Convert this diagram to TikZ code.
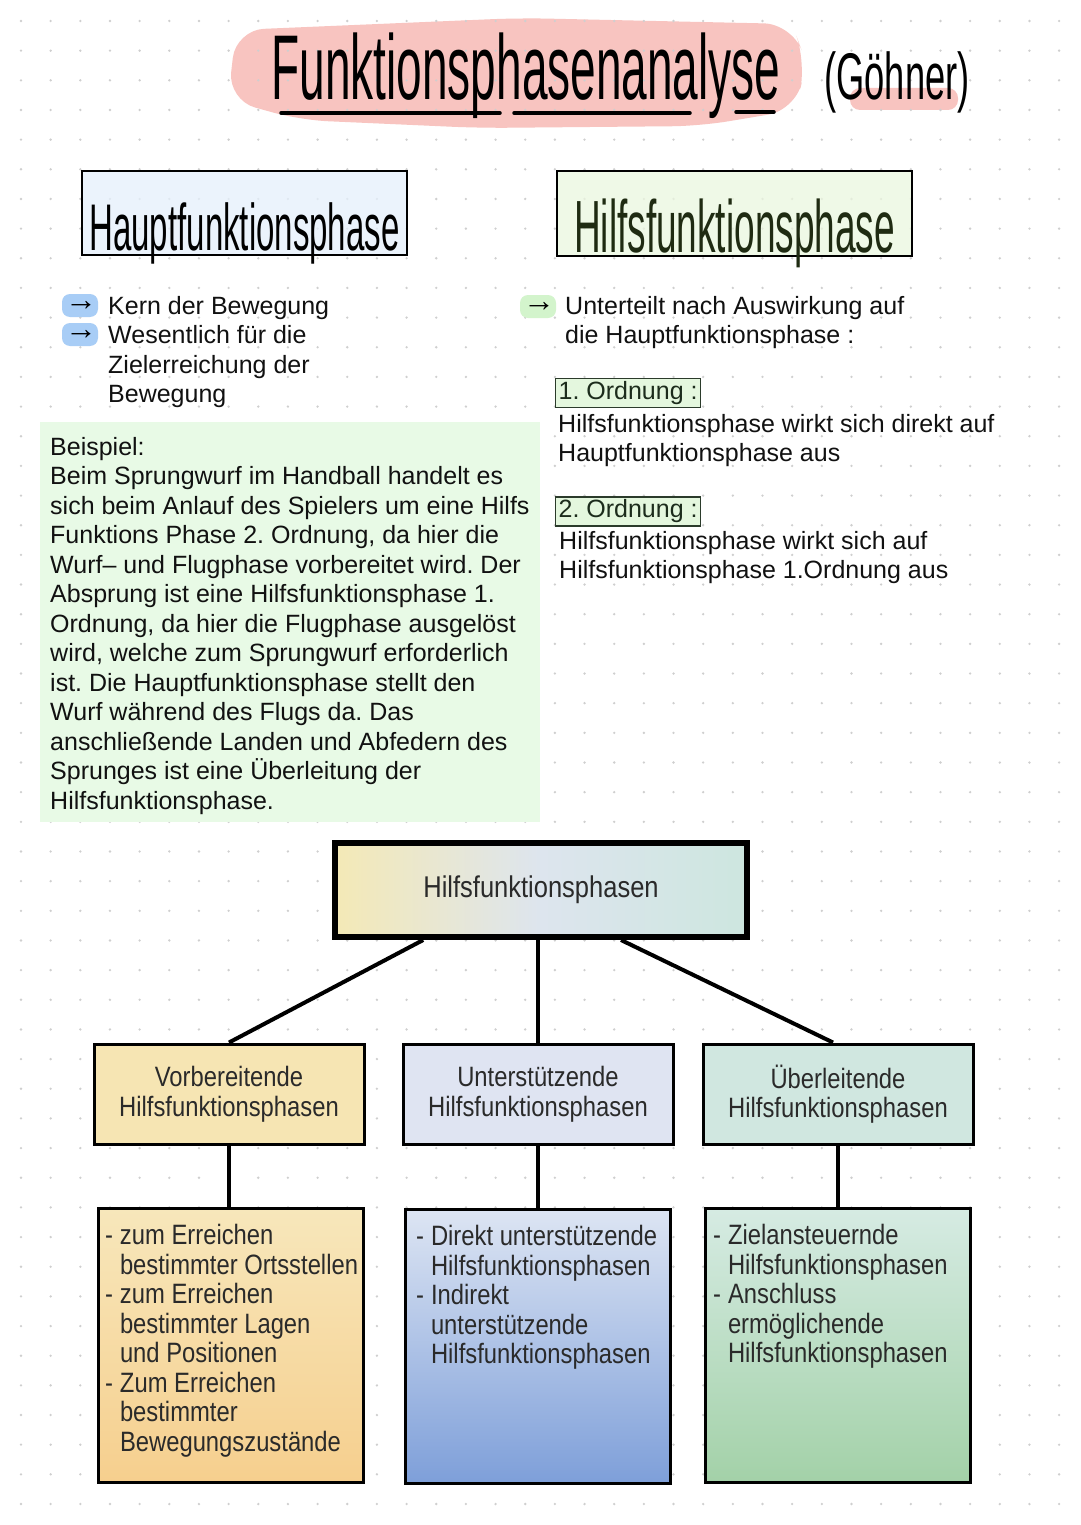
\documentclass[tikz,border=0pt]{standalone}
\usepackage{fontspec}
\setmainfont{Liberation Sans}
\newfontfamily\handfont[FakeStretch=0.5]{Liberation Sans}
\newfontfamily\handfontb[FakeStretch=0.55]{Liberation Sans}
\newfontfamily\narrowfont[FakeStretch=0.85]{Liberation Sans}
\usepackage{xcolor}
\usetikzlibrary{calc}
\frenchspacing

\definecolor{dotgray}{HTML}{CFCFCF}
\definecolor{blobpink}{HTML}{F8C4C0}
\definecolor{hauptfill}{HTML}{E5F0FC}
\definecolor{hilfsfill}{HTML}{EAF7DF}
\definecolor{hilfsink}{HTML}{1F2B12}
\definecolor{hlblue}{HTML}{A8CDF6}
\definecolor{hlgreen}{HTML}{D3F4CC}
\definecolor{ordfill}{HTML}{E4F7DE}
\definecolor{ordline}{HTML}{2B3B2B}
\definecolor{ordink}{HTML}{1C2C1C}
\definecolor{exfill}{HTML}{E8FAE6}
\definecolor{notetext}{HTML}{111111}
\definecolor{phasetext}{HTML}{2A2A2A}
\definecolor{topleft}{HTML}{F4E9B6}
\definecolor{topmid}{HTML}{DDE5EE}
\definecolor{topright}{HTML}{CDE6DF}
\definecolor{vorfill}{HTML}{F6E5B3}
\definecolor{unterfill}{HTML}{DFE4F2}
\definecolor{ueberfill}{HTML}{D0E7E0}
\definecolor{vortop}{HTML}{F7E7BB}
\definecolor{vorbot}{HTML}{F6CF8E}
\definecolor{untertop}{HTML}{DDE5F3}
\definecolor{unterbot}{HTML}{7E9FD9}
\definecolor{uebertop}{HTML}{D6EBE3}
\definecolor{ueberbot}{HTML}{A3D1A8}

\newcommand{\notefont}{\fontsize{25}{29.5}\selectfont}
\newcommand{\phasefont}{\narrowfont\fontsize{28}{29.5}\selectfont}
\newcommand{\phaselist}[2]{\parbox[c][274pt][t]{265pt}{\vspace*{16pt}\begin{tabular}{@{\hspace{#1}}p{15pt}@{}l@{}}#2\end{tabular}}}

\begin{document}
\begin{tikzpicture}[x=1pt, y=-1pt]
        \useasboundingbox (0,0) rectangle (1080,1525);
        \fill[white] (0,0) rectangle (1080,1525);
        \tikzstyle{note} = [font=\notefont, text=notetext, inner sep=0pt, anchor=north west, align=left]
        \tikzstyle{headbox} = [draw=black, line width=2pt, minimum height=84pt, text depth=0pt, inner sep=0pt, fill opacity=0.75, text opacity=1]
        \tikzstyle{hlarrow} = [rounded corners=8pt, inner ysep=0pt, inner xsep=1pt, minimum height=23pt, text width=34pt, align=right, font=\fontsize{32}{32}\selectfont]
        \tikzstyle{ordbox} = [draw=ordline, line width=1.2pt, fill=ordfill, text=ordink, inner xsep=3pt, inner ysep=0pt, minimum height=29pt, font=\notefont, anchor=west]
        \tikzstyle{phasebox} = [draw=black, line width=3pt, minimum width=270pt, minimum height=100pt, align=center, font=\phasefont, text=phasetext]
        \tikzstyle{lowbox} = [draw=black, line width=3pt, inner sep=0pt, font=\phasefont, text=phasetext]
        \tikzstyle{branch} = [draw=black, line width=4pt]

        \fill[blobpink, rounded corners=28pt] (236,30) -- (520,18) -- (792,24) -- (806,62) -- (796,110) -- (700,126) -- (480,128) -- (300,120) -- (228,100) -- cycle;
        \fill[blobpink, rounded corners=10pt] (850,88) rectangle (958,110);
        \foreach \i in {0,...,35}
            \foreach \j in {0,...,50}
                \fill[dotgray] (21+29.66*\i, 21+29.66*\j) circle (1.3);

        \node[font=\handfont\fontsize{92}{92}\selectfont, anchor=base, inner sep=0pt] (title) at (526,100) {Funktionsphasenanalyse};
        \node[font=\handfontb\fontsize{66}{66}\selectfont, anchor=base, inner sep=0pt] (author) at (897,100) {(Göhner)};
        \draw[line width=3.5pt, line cap=round] (281,113) -- (500,113);
        \draw[line width=3.5pt, line cap=round] (514,113) -- (690,113);
        \draw[line width=3.5pt, line cap=round] (736,112) -- (774,112);

        \node[headbox, fill=hauptfill, minimum width=325pt, text height=74pt, font=\handfont\fontsize{66}{66}\selectfont] (haupt) at (244.5,213) {Hauptfunktionsphase\hspace{6pt}};
        \node[headbox, fill=hilfsfill, minimum width=355pt, text height=77pt, text=hilfsink, font=\handfont\fontsize{74}{74}\selectfont] (hilfs) at (734.5,213.5) {Hilfsfunktionsphase\hspace{20pt}};

        \node[hlarrow, fill=hlblue] (arr1) at (80,305.5) {→};
        \node[hlarrow, fill=hlblue] (arr2) at (80,334.5) {→};
        \node[note] (kern) at (108,296) {Kern der Bewegung\\Wesentlich für die\\Zielerreichung der\\Bewegung};
        \node[hlarrow, fill=hlgreen] (arr3) at (538,306.5) {→};
        \node[note] (unterteilt) at (565,296) {Unterteilt nach Auswirkung auf\\die Hauptfunktionsphase :};

        \node[ordbox] (ord1) at (555,393) {1. Ordnung :};
        \node[note] (ord1txt) at (558,414) {Hilfsfunktionsphase wirkt sich direkt auf\\Hauptfunktionsphase aus};
        \node[ordbox] (ord2) at (555,511.5) {2. Ordnung :};
        \node[note] (ord2txt) at (559,531) {Hilfsfunktionsphase wirkt sich auf\\Hilfsfunktionsphase 1.Ordnung aus};

        \node[note, fill=exfill, anchor=west, minimum width=493pt, minimum height=400pt, inner xsep=10pt] (beispiel) at (40,622) {\rule{0pt}{26pt}Beispiel:\\Beim Sprungwurf im Handball handelt es\\sich beim Anlauf des Spielers um eine Hilfs\\Funktions Phase 2. Ordnung, da hier die\\Wurf– und Flugphase vorbereitet wird. Der\\Absprung ist eine Hilfsfunktionsphase 1.\\Ordnung, da hier die Flugphase ausgelöst\\wird, welche zum Sprungwurf erforderlich\\ist. Die Hauptfunktionsphase stellt den\\Wurf während des Flugs da. Das\\anschließende Landen und Abfedern des\\Sprunges ist eine Überleitung der\\Hilfsfunktionsphase.};

        \node[draw=black, line width=6pt, minimum width=412pt, minimum height=94pt, left color=topleft, right color=topright, middle color=topmid, text=phasetext, font=\narrowfont\fontsize{30}{30}\selectfont] (hfp) at (541,890) {\raisebox{-3pt}{Hilfsfunktionsphasen}\hspace{8pt}};

        \node[phasebox, fill=vorfill] (vb) at (229,1094) {Vorbereitende\\Hilfsfunktionsphasen};
        \node[phasebox, fill=unterfill] (ub) at (538,1094) {Unterstützende\\Hilfsfunktionsphasen};
        \node[phasebox, fill=ueberfill] (ueb) at (838,1094) {Überleitende\\Hilfsfunktionsphasen};

        \draw[branch] (hfp.203.3) -- (vb.north);
        \draw[branch] (ub.north |- hfp.south) -- (ub.north);
        \draw[branch] (hfp.328.3) -- ([xshift=-5pt]ueb.north);

        \node[lowbox, top color=vortop, bottom color=vorbot] (vbl) at (231,1345) {\phaselist{6.5pt}{-&zum Erreichen\\&bestimmter Ortsstellen\\-&zum Erreichen\\&bestimmter Lagen\\&und Positionen\\-&Zum Erreichen\\&bestimmter\\&Bewegungszustände}};
        \node[lowbox, top color=untertop, bottom color=unterbot] (ubl) at (538,1346) {\phaselist{10.5pt}{-&Direkt unterstützende\\&Hilfsfunktionsphasen\\-&Indirekt\\&unterstützende\\&Hilfsfunktionsphasen}};
        \node[lowbox, top color=uebertop, bottom color=ueberbot] (uebl) at (838,1345) {\phaselist{7.5pt}{-&Zielansteuernde\\&Hilfsfunktionsphasen\\-&Anschluss\\&ermöglichende\\&Hilfsfunktionsphasen}};

        \draw[branch] (vb.south) -- (vb.south |- vbl.north);
        \draw[branch] (ub.south) -- (ubl.north);
        \draw[branch] (ueb.south) -- (uebl.north);
    \end{tikzpicture}
\end{document}
